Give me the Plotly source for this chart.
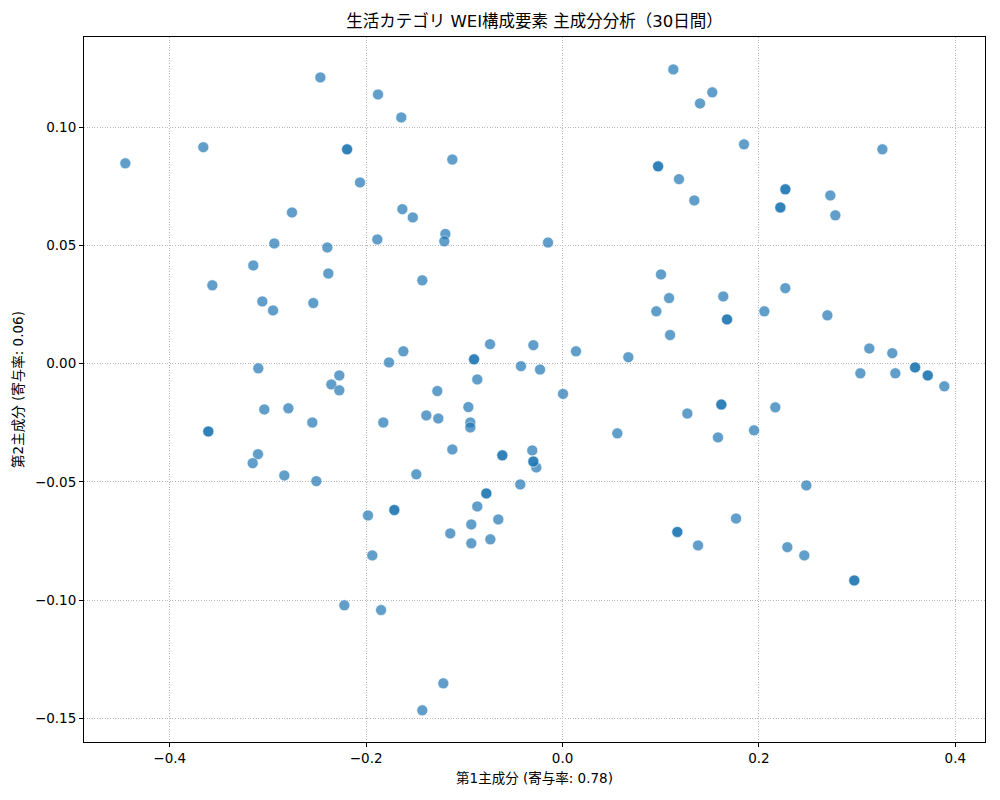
import plotly.graph_objects as go

# PCA scores (PC1, PC2)
pc1 = [
    -0.2466, -0.1879, -0.3658, -0.4452, -0.2062, -0.2755, -0.1886, -0.2935, -0.2395, -0.3149,
    -0.2385, -0.3566, -0.3057, -0.2538, -0.2948, -0.3098, -0.2273, -0.2354, -0.2273, 0.1128,
    -0.1642, -0.1122, 0.1186, -0.1631, -0.1525, -0.1193, -0.1204, -0.0148, -0.1428, 0.1003,
    0.1085, 0.0955, 0.1095, -0.0738, -0.0297, -0.1621, 0.0137, 0.0670, -0.1767, -0.0423,
    -0.0229, -0.0868, -0.1275, 0.0005, 0.1525, 0.1400, 0.1848, 0.3257, 0.2727, 0.1342,
    0.2778, 0.2269, 0.1637, 0.2055, 0.2697, 0.3124, 0.3358, 0.3033, 0.3389, 0.3888,
    -0.3037, -0.2792, -0.2548, -0.1825, -0.3101, -0.3155, -0.2833, -0.2507, -0.1981, -0.1937,
    -0.2222, -0.1848, -0.0959, -0.1387, -0.1265, -0.0939, -0.0939, 0.0558, -0.1122, -0.0308,
    -0.0267, -0.1489, -0.0430, -0.0868, -0.0654, -0.0929, -0.1143, -0.0735, -0.0929, -0.1214,
    -0.1428, 0.1271, 0.2167, 0.1950, 0.1583, 0.2483, 0.1767, 0.1380, 0.2289, 0.2462,
    # overlapping (repeated) days
    -0.2194, -0.2194, 0.0973, 0.0973, -0.0901, -0.0901, 0.2269, 0.2269, 0.2218, 0.2218,
    0.1675, 0.1675, 0.3590, 0.3590, 0.3719, 0.3719, -0.3607, -0.3607, -0.0613, -0.0613,
    -0.0297, -0.0297, -0.0776, -0.0776, -0.1713, -0.1713, 0.1169, 0.1169, 0.1617, 0.1617,
    0.2971, 0.2971,
]
pc2 = [
    0.1210, 0.1138, 0.0915, 0.0847, 0.0766, 0.0639, 0.0525, 0.0508, 0.0491, 0.0415,
    0.0381, 0.0331, 0.0263, 0.0256, 0.0225, -0.0020, -0.0050, -0.0088, -0.0113, 0.1244,
    0.1041, 0.0863, 0.0780, 0.0653, 0.0618, 0.0548, 0.0517, 0.0512, 0.0352, 0.0377,
    0.0277, 0.0221, 0.0121, 0.0082, 0.0078, 0.0052, 0.0052, 0.0027, 0.0005, -0.0011,
    -0.0025, -0.0067, -0.0116, -0.0128, 0.1147, 0.1100, 0.0927, 0.0906, 0.0711, 0.0690,
    0.0627, 0.0319, 0.0284, 0.0221, 0.0204, 0.0064, 0.0044, -0.0041, -0.0041, -0.0096,
    -0.0194, -0.0189, -0.0249, -0.0249, -0.0383, -0.0421, -0.0473, -0.0497, -0.0642, -0.0811,
    -0.1022, -0.1042, -0.0184, -0.0219, -0.0232, -0.0249, -0.0270, -0.0295, -0.0363, -0.0367,
    -0.0439, -0.0468, -0.0511, -0.0604, -0.0659, -0.0680, -0.0718, -0.0743, -0.0760, -0.1352,
    -0.1466, -0.0211, -0.0185, -0.0282, -0.0312, -0.0515, -0.0655, -0.0769, -0.0776, -0.0811,
    0.0906, 0.0906, 0.0834, 0.0834, 0.0018, 0.0018, 0.0737, 0.0737, 0.0660, 0.0660,
    0.0187, 0.0187, -0.0016, -0.0016, -0.0050, -0.0050, -0.0287, -0.0287, -0.0388, -0.0388,
    -0.0414, -0.0414, -0.0549, -0.0549, -0.0619, -0.0619, -0.0712, -0.0712, -0.0173, -0.0173,
    -0.0917, -0.0917,
]

x_ticks = [-0.4, -0.2, 0.0, 0.2, 0.4]
y_ticks = [-0.15, -0.10, -0.05, 0.00, 0.05, 0.10]

title_text = "生活カテゴリ WEI構成要素 主成分分析（30日間）"
x_label = "第1主成分 (寄与率: 0.78)"
y_label = "第2主成分 (寄与率: 0.06)"

FONT = "DejaVu Sans, Noto Sans CJK JP, sans-serif"


def fmt(v, nd):
    s = f"{abs(v):.{nd}f}"
    return ("\u2212" + s) if v < -1e-12 else s


fig = go.Figure(
    go.Scatter(
        x=pc1, y=pc2, mode="markers",
        marker=dict(size=11, color="#1f77b4", opacity=0.7,
                    line=dict(color="white", width=0.6)),
        showlegend=False,
    )
)

axis_common = dict(
    showline=True, mirror=True, linecolor="black", linewidth=1,
    ticks="outside", ticklen=4, tickcolor="black", tickwidth=1,
    showgrid=True, gridcolor="#b8b8b8", griddash="1px,1.6px", gridwidth=0.8,
    zeroline=False, automargin=False,
    tickfont=dict(family=FONT, size=13.5, color="black"),
)

fig.update_layout(
    width=1000, height=800,
    paper_bgcolor="white", plot_bgcolor="white",
    margin=dict(l=76, r=23, t=29, b=66),
    font=dict(family=FONT, color="black"),
    title=dict(text=title_text, x=0.5, xref="paper", xanchor="center",
               y=1 - 13 / 800, yref="container", yanchor="middle",
               font=dict(family=FONT, size=16.5, color="black")),
    xaxis=dict(range=[-0.4873, 0.4302], tickmode="array", tickvals=x_ticks,
               ticktext=[fmt(v, 1) for v in x_ticks],
               title=dict(text=x_label, standoff=8,
                          font=dict(family=FONT, size=13.5, color="black")),
               **axis_common),
    yaxis=dict(range=[-0.1600, 0.1381], tickmode="array", tickvals=y_ticks,
               ticktext=[fmt(v, 2) for v in y_ticks],
               title=dict(text=y_label, standoff=8,
                          font=dict(family=FONT, size=13.5, color="black")),
               **axis_common),
)

fig.write_html("out.html")
